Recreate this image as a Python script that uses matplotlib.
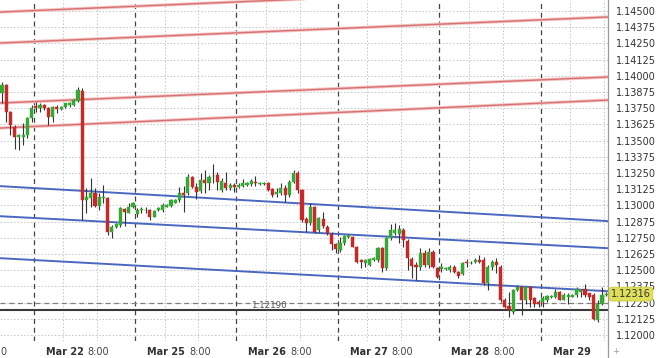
import matplotlib
matplotlib.use("Agg")
import matplotlib.pyplot as plt
from matplotlib.lines import Line2D

# ---------------- data (hourly EUR/USD candles) ----------------
opens = [1.13867, 1.13929, 1.13723, 1.13607, 1.13530, 1.13530, 1.13543, 1.13672, 1.13767, 1.13749,
         1.13775, 1.13749, 1.13684, 1.13761, 1.13741, 1.13757, 1.13775, 1.13775, 1.13808, 1.13885,
         1.13041, 1.13054, 1.13097, 1.12995, 1.13060, 1.13054, 1.12796, 1.12835, 1.12848, 1.12972,
         1.12943, 1.12985, 1.12933, 1.12962, 1.12964, 1.12964, 1.12912, 1.12964, 1.12964, 1.12989,
         1.12995, 1.13020, 1.13041, 1.13093, 1.13093, 1.13216, 1.13144, 1.13113, 1.13195, 1.13175,
         1.13227, 1.13234, 1.13118, 1.13170, 1.13131, 1.13157, 1.13144, 1.13149, 1.13157, 1.13165,
         1.13182, 1.13165, 1.13165, 1.13175, 1.13124, 1.13085, 1.13093, 1.13131, 1.13080, 1.13182,
         1.13252, 1.13118, 1.12892, 1.12861, 1.12985, 1.12809, 1.12892, 1.12835, 1.12779, 1.12701,
         1.12655, 1.12707, 1.12753, 1.12753, 1.12681, 1.12578, 1.12552, 1.12539, 1.12578, 1.12578,
         1.12668, 1.12514, 1.12745, 1.12784, 1.12779, 1.12809, 1.12728, 1.12583, 1.12539, 1.12526,
         1.12630, 1.12539, 1.12642, 1.12514, 1.12506, 1.12506, 1.12501, 1.12526, 1.12488, 1.12470,
         1.12565, 1.12552, 1.12565, 1.12578, 1.12578, 1.12398, 1.12526, 1.12565, 1.12526, 1.12269,
         1.12223, 1.12179, 1.12346, 1.12367, 1.12269, 1.12367, 1.12282, 1.12256, 1.12256, 1.12269,
         1.12290, 1.12295, 1.12333, 1.12274, 1.12295, 1.12295, 1.12308, 1.12333, 1.12359, 1.12321,
         1.12308, 1.12115, 1.12243, 1.12308]
highs = [1.13952, 1.13937, 1.13728, 1.13620, 1.13550, 1.13635, 1.13684, 1.13775, 1.13800, 1.13790,
         1.13786, 1.13761, 1.13767, 1.13775, 1.13767, 1.13793, 1.13800, 1.13818, 1.13916, 1.13903,
         1.13134, 1.13211, 1.13134, 1.13095, 1.13157, 1.13067, 1.12848, 1.12863, 1.12989, 1.12977,
         1.13018, 1.13028, 1.12977, 1.12989, 1.12989, 1.12969, 1.12964, 1.12987, 1.13015, 1.13010,
         1.13046, 1.13049, 1.13144, 1.13149, 1.13242, 1.13227, 1.13170, 1.13249, 1.13273, 1.13234,
         1.13319, 1.13260, 1.13208, 1.13260, 1.13170, 1.13170, 1.13175, 1.13201, 1.13180, 1.13201,
         1.13227, 1.13182, 1.13182, 1.13182, 1.13131, 1.13131, 1.13170, 1.13157, 1.13195, 1.13273,
         1.13268, 1.13124, 1.12912, 1.13015, 1.12995, 1.12912, 1.12951, 1.12848, 1.12796, 1.12711,
         1.12758, 1.12771, 1.12779, 1.12763, 1.12686, 1.12583, 1.12583, 1.12593, 1.12599, 1.12681,
         1.12681, 1.12758, 1.12856, 1.12861, 1.12848, 1.12822, 1.12738, 1.12603, 1.12565, 1.12668,
         1.12655, 1.12668, 1.12655, 1.12526, 1.12552, 1.12526, 1.12539, 1.12539, 1.12496, 1.12565,
         1.12583, 1.12570, 1.12591, 1.12616, 1.12603, 1.12539, 1.12578, 1.12591, 1.12539, 1.12282,
         1.12333, 1.12359, 1.12385, 1.12377, 1.12377, 1.12377, 1.12295, 1.12269, 1.12300, 1.12308,
         1.12308, 1.12359, 1.12341, 1.12321, 1.12321, 1.12315, 1.12367, 1.12359, 1.12392, 1.12326,
         1.12321, 1.12269, 1.12372, 1.12330]
lows = [1.13790, 1.13646, 1.13543, 1.13432, 1.13427, 1.13466, 1.13517, 1.13646, 1.13723, 1.13723,
        1.13736, 1.13620, 1.13646, 1.13710, 1.13736, 1.13749, 1.13761, 1.13767, 1.13800, 1.12887,
        1.12941, 1.12987, 1.12989, 1.12964, 1.13018, 1.12771, 1.12748, 1.12822, 1.12835, 1.12840,
        1.12938, 1.12977, 1.12912, 1.12938, 1.12938, 1.12887, 1.12907, 1.12956, 1.12951, 1.12985,
        1.12989, 1.13015, 1.13028, 1.12951, 1.13080, 1.13131, 1.13049, 1.13093, 1.13093, 1.13118,
        1.13172, 1.13118, 1.13105, 1.13118, 1.13118, 1.13105, 1.13131, 1.13144, 1.13149, 1.13149,
        1.13149, 1.13157, 1.13157, 1.13113, 1.13067, 1.13067, 1.13080, 1.13028, 1.13067, 1.13170,
        1.13097, 1.12874, 1.12796, 1.12848, 1.12789, 1.12796, 1.12822, 1.12771, 1.12655, 1.12630,
        1.12642, 1.12694, 1.12745, 1.12676, 1.12552, 1.12514, 1.12526, 1.12532, 1.12570, 1.12565,
        1.12488, 1.12501, 1.12732, 1.12771, 1.12709, 1.12681, 1.12501, 1.12437, 1.12423, 1.12501,
        1.12526, 1.12514, 1.12514, 1.12437, 1.12488, 1.12501, 1.12488, 1.12475, 1.12437, 1.12462,
        1.12526, 1.12547, 1.12552, 1.12552, 1.12385, 1.12346, 1.12501, 1.12475, 1.12256, 1.12205,
        1.12140, 1.12166, 1.12341, 1.12153, 1.12243, 1.12217, 1.12217, 1.12217, 1.12217, 1.12256,
        1.12282, 1.12282, 1.12269, 1.12269, 1.12243, 1.12290, 1.12295, 1.12295, 1.12295, 1.12269,
        1.12115, 1.12102, 1.12230, 1.12300]
closes = [1.13929, 1.13723, 1.13620, 1.13530, 1.13540, 1.13543, 1.13672, 1.13749, 1.13751, 1.13775,
          1.13749, 1.13684, 1.13761, 1.13741, 1.13757, 1.13788, 1.13788, 1.13813, 1.13890, 1.13041,
          1.13064, 1.13097, 1.12995, 1.13067, 1.13068, 1.12796, 1.12835, 1.12856, 1.12979, 1.12951,
          1.12989, 1.13020, 1.12964, 1.12972, 1.12965, 1.12907, 1.12958, 1.12977, 1.13002, 1.13002,
          1.13041, 1.13041, 1.13093, 1.13080, 1.13216, 1.13144, 1.13105, 1.13195, 1.13170, 1.13221,
          1.13230, 1.13182, 1.13190, 1.13131, 1.13157, 1.13139, 1.13157, 1.13170, 1.13170, 1.13190,
          1.13170, 1.13175, 1.13175, 1.13118, 1.13080, 1.13105, 1.13131, 1.13080, 1.13182, 1.13252,
          1.13118, 1.12887, 1.12861, 1.12985, 1.12796, 1.12900, 1.12840, 1.12784, 1.12701, 1.12660,
          1.12711, 1.12763, 1.12771, 1.12681, 1.12565, 1.12565, 1.12578, 1.12583, 1.12591, 1.12668,
          1.12514, 1.12745, 1.12809, 1.12809, 1.12815, 1.12732, 1.12591, 1.12532, 1.12526, 1.12630,
          1.12539, 1.12642, 1.12526, 1.12449, 1.12526, 1.12518, 1.12526, 1.12488, 1.12454, 1.12552,
          1.12552, 1.12557, 1.12578, 1.12565, 1.12398, 1.12526, 1.12565, 1.12539, 1.12269, 1.12217,
          1.12192, 1.12346, 1.12367, 1.12269, 1.12367, 1.12269, 1.12243, 1.12238, 1.12282, 1.12300,
          1.12300, 1.12333, 1.12274, 1.12308, 1.12308, 1.12308, 1.12359, 1.12346, 1.12308, 1.12295,
          1.12120, 1.12243, 1.12308, 1.12316]

# trend / channel lines: price at left edge and at right edge
red_lines = [(1.14492, 1.14693), (1.14253, 1.14454), (1.13790, 1.13991), (1.13597, 1.13813)]
blue_lines = [(1.13149, 1.12879), (1.12917, 1.12670), (1.12593, 1.12338)]
level_price = 1.12190
level_label = "1.12190"
ask_line = 1.12250
last_price = 1.12316
last_label = "1.12316"

ytick_vals = [1.12000, 1.12125, 1.12250, 1.12375, 1.12500, 1.12625, 1.12750, 1.12875, 1.13000,
              1.13125, 1.13250, 1.13375, 1.13500, 1.13625, 1.13750, 1.13875, 1.14000, 1.14125,
              1.14250, 1.14375, 1.14500]
ytick_labels = ["%.5f" % v for v in ytick_vals]

day_names = ["Mar 22", "Mar 25", "Mar 26", "Mar 27", "Mar 28", "Mar 29"]
day_times = ["8:00", "8:00", "8:00", "8:00", "8:00", ""]
day_starts = [7.5, 31.5, 55.5, 79.5, 103.5, 127.5]   # candle-index of day separators
prev_tail = "0"   # tail of the previous day's label, cut by the left edge

# ---------------- figure ----------------
W, H = 660, 358
fig = plt.figure(figsize=(W / 100, H / 100), dpi=100)
fig.patch.set_facecolor("white")
ax = fig.add_axes([0, 17 / H, 608 / W, 341 / H])
ax.set_facecolor("white")

x_left, x_right = -0.47, 143.43
ax.set_xlim(x_left, x_right)
ax.set_ylim(1.11954, 1.14585)

# grid
for v in ytick_vals:
    ax.axhline(v, color="#c4c4c4", lw=0.7, ls=(0, (1.5, 2)), zorder=0)
for d in day_starts:
    ax.axvline(d, color="#444444", lw=0.9, ls=(0, (4, 3)), zorder=1)
    for off in (7, 15):
        ax.axvline(d + off, color="#c4c4c4", lw=0.7, ls=(0, (1.5, 2)), zorder=0)

# candles
n = len(closes)
idx = list(range(n))
green = "#35a835"
red = "#c82828"
ax.vlines(idx, lows, highs, color="#333333", lw=0.8, zorder=3)
bottoms = [min(o, c) for o, c in zip(opens, closes)]
heights = [max(abs(c - o), 0.00002) for o, c in zip(opens, closes)]
cols = [green if c >= o else red for o, c in zip(opens, closes)]
ax.bar(idx, heights, bottom=bottoms, width=0.74, color=cols, edgecolor=cols, lw=0.3, zorder=4)

# channel lines
for y0, y1 in red_lines:
    ax.plot([x_left, x_right], [y0, y1], color="#f4c8c8", lw=2.4, zorder=2, solid_capstyle="butt")
    ax.plot([x_left, x_right], [y0, y1], color="#d87070", lw=1.0, zorder=2, solid_capstyle="butt")
for y0, y1 in blue_lines:
    ax.plot([x_left, x_right], [y0, y1], color="#4a68c0", lw=1.4, zorder=2)

# horizontal levels
ax.axhline(ask_line, color="#808080", lw=0.9, ls=(0, (4, 3)), zorder=2)
ax.axhline(level_price, color="#3a3a3a", lw=1.5, zorder=2)
ax.text(63.2, level_price + 0.00006, level_label, fontsize=6.3, color="#555555",
        ha="center", va="bottom", zorder=5)

# right axis
for s in ("top", "left", "bottom"):
    ax.spines[s].set_visible(False)
ax.spines["right"].set_color("#9a9a9a")
ax.spines["right"].set_linewidth(0.9)
ax.yaxis.tick_right()
ax.set_yticks(ytick_vals)
ax.set_yticklabels(ytick_labels)
ax.tick_params(axis="y", length=0, pad=6, labelsize=7, labelcolor="#333333")
ax.set_xticks([])
fig.add_artist(Line2D([608 / W, 608 / W], [0, 17 / H], color="#9a9a9a", lw=0.9))

# last price badge
ax.text(1.0 + 3 / 608, last_price, last_label, transform=ax.get_yaxis_transform(),
        fontsize=7, color="#333333", ha="left", va="center", zorder=10,
        bbox=dict(boxstyle="round,pad=0.2,rounding_size=0.35", fc="#dede5a", ec="#cccc40", lw=0.6),
        clip_on=False)

# date labels
trans = ax.get_xaxis_transform()
for d, name, t in zip(day_starts, day_names, day_times):
    xpos = d + 2.84
    ax.text(xpos, -11 / 341, name, transform=trans, fontsize=7, fontweight="bold",
            color="#333333", ha="left", va="center", clip_on=False)
    if t:
        ax.annotate(t, xy=(xpos, -11 / 341), xycoords=trans, xytext=(30.2, 0),
                    textcoords="offset points", fontsize=7, color="#444444",
                    ha="left", va="center", annotation_clip=False)
fig.text(0.5 / W, 1 - 352 / H, prev_tail, fontsize=7, color="#444444", ha="left", va="center")

fig.text(612 / W, 1 - 352 / H, "+", fontsize=6, color="#999999", ha="left", va="center")

fig.savefig("out.png", dpi=100, facecolor="white")
